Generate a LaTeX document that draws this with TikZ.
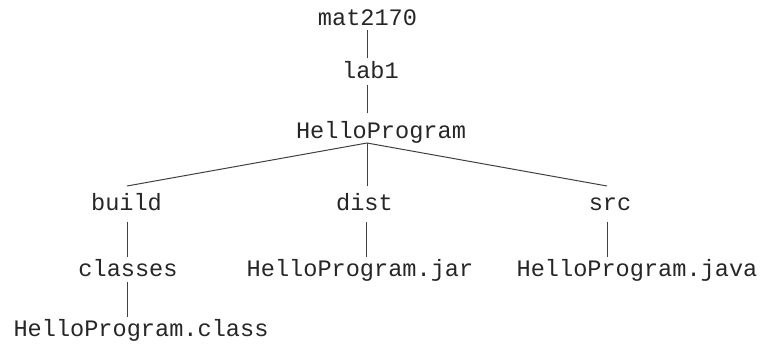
\documentclass[tikz,border=0pt]{standalone}
\usepackage{fontspec}
\setmonofont{Liberation Mono}
\begin{document}
\begin{tikzpicture}[x=0.5pt,y=-0.5pt,
  lbl/.style={inner sep=0pt,anchor=base,font=\ttfamily\fontsize{11.8}{14}\selectfont,text=black!85},
  edge/.style={draw=black!75,line width=0.5pt}]
\useasboundingbox (0,0) rectangle (761,343);
\node[lbl] (mat) at (367.5,25) {mat2170};
\node[lbl] (lab) at (370.5,78) {lab1};
\node[lbl] (hp) at (381,138) {HelloProgram};
\node[lbl] (build) at (126.5,210) {build};
\node[lbl] (dist) at (364.5,210) {dist};
\node[lbl] (src) at (610,210) {src};
\node[lbl] (classes) at (128,276) {classes};
\node[lbl] (jar) at (360,276) {HelloProgram.jar};
\node[lbl] (java) at (637,276) {HelloProgram.java};
\node[lbl] (cls) at (141,336) {HelloProgram.class};
\draw[edge] ([shift={(-0.5,5)}]mat.base) -- ([shift={(-3.5,-20)}]lab.base);
\draw[edge] ([shift={(-3.5,7)}]lab.base) -- ([shift={(-14,-25)}]hp.base);
\draw[edge] ([shift={(-14,5)}]hp.base) -- ([shift={(0.5,-24)}]build.base);
\draw[edge] ([shift={(-14,5)}]hp.base) -- ([shift={(2.5,-24)}]dist.base);
\draw[edge] ([shift={(-14,5)}]hp.base) -- ([shift={(-3,-24)}]src.base);
\draw[edge] ([shift={(0.5,12)}]build.base) -- ([shift={(-1,-19)}]classes.base);
\draw[edge] ([shift={(1.5,12)}]dist.base) -- ([shift={(6,-19)}]jar.base);
\draw[edge] ([shift={(-3,12)}]src.base) -- ([shift={(-30,-19)}]java.base);
\draw[edge] ([shift={(-1,6)}]classes.base) -- ([shift={(-14,-19)}]cls.base);
\end{tikzpicture}
\end{document}
